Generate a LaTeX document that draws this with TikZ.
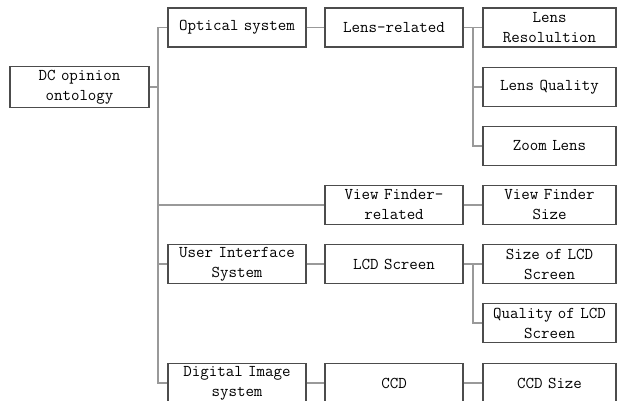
\documentclass[tikz,border=0pt]{standalone}
\usepackage{xcolor}

\begin{document}
\begin{tikzpicture}[x=1pt,y=-1pt,thick,
    box node/.style={draw=black!70,line width=1.2pt,rectangle,minimum height=39pt,inner sep=1pt,align=center,font=\fontsize{16.5}{20}\selectfont\ttfamily},
    mid node/.style={box node,minimum width=138pt,text width=136pt},
    leaf node/.style={box node,minimum width=133pt,text width=131pt},
    link/.style={draw=black!40,line width=1.2pt}]
    \useasboundingbox (0,0) rectangle (621,401);
    \fill[white] (0,0) rectangle (621,401);
    \clip (0,0) rectangle (621,401);

    \node[box node,minimum width=139pt,minimum height=41pt,text width=137pt] (root) at (79.5,87) {DC opinion\\ontology};

    \node[mid node] (opt) at (237,27.5) {Optical system};
    \node[mid node] (ui) at (237,264) {User Interface\\System};
    \node[mid node] (dig) at (237,383) {Digital Image\\system};

    \node[mid node] (lens) at (394,27.5) {Lens-related};
    \node[mid node] (vf) at (394,205) {View Finder-\\related};
    \node[mid node] (lcd) at (394,264) {LCD Screen};
    \node[mid node] (ccd) at (394,383) {CCD};

    \node[leaf node] (lres) at (549.5,27.5) {Lens\\Resolultion};
    \node[leaf node] (lqual) at (549.5,87) {Lens Quality};
    \node[leaf node] (zoom) at (549.5,146) {Zoom Lens};
    \node[leaf node] (vfsize) at (549.5,205) {View Finder\\Size};
    \node[leaf node] (lcdsize) at (549.5,264) {Size of LCD\\Screen};
    \node[leaf node] (lcdqual) at (549.5,323) {Quality of LCD\\Screen};
    \node[leaf node] (ccdsize) at (549.5,383) {CCD Size};

    \coordinate (trunk) at (158,87);
    \coordinate (lensfork) at (473,27.5);
    \coordinate (lcdfork) at (473,264);

    % main trunk
    \path[link]
        (root) edge (trunk)
        (trunk) edge[to path={|- (\tikztotarget)}] (opt)
        (trunk) edge[to path={|- (\tikztotarget)}] (ui)
        (trunk) edge[to path={|- (\tikztotarget)}] (dig)
        (trunk) edge[to path={|- (\tikztotarget)}] (vf)
    ;

    % second level
    \path[link]
        (opt) edge (lens)
        (ui) edge (lcd)
        (dig) edge (ccd)
        (vf) edge (vfsize)
        (ccd) edge (ccdsize)
        (lens) edge (lres)
        (lcd) edge (lcdsize)
        (lensfork) edge[to path={|- (\tikztotarget)}] (lqual)
        (lensfork) edge[to path={|- (\tikztotarget)}] (zoom)
        (lcdfork) edge[to path={|- (\tikztotarget)}] (lcdqual)
    ;

\end{tikzpicture}
\end{document}
